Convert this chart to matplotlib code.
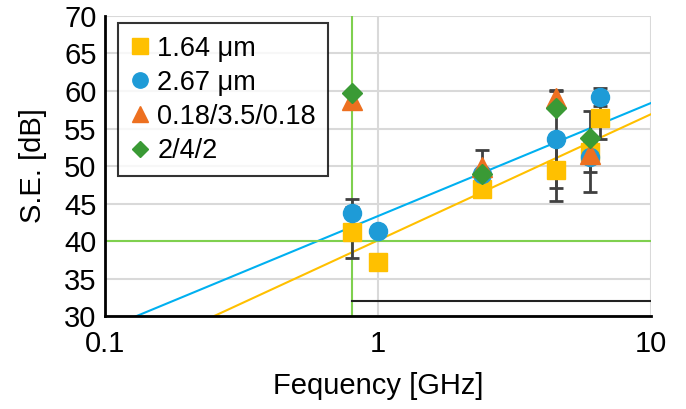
import numpy as np
import matplotlib
matplotlib.use('Agg')
import matplotlib.pyplot as plt

plt.rcParams['font.family'] = ['Liberation Sans', 'DejaVu Sans']

# measured data (frequency in GHz, shielding effectiveness in dB)
f_164 = [0.8, 1.0, 2.4, 4.5, 6.0, 6.5]
se_164 = [41.2, 37.2, 46.9, 49.5, 51.9, 56.4]
err_164 = [3.4, 0, 0, 4.2, 5.4, 2.8]

f_267 = [0.8, 1.0, 2.4, 4.5, 6.0, 6.5]
se_267 = [43.8, 41.3, 49.0, 53.6, 51.2, 59.2]
err_267 = [1.8, 0, 0, 6.5, 2.0, 1.2]

f_tri = [0.8, 2.4, 4.5, 6.0]
se_tri = [58.8, 49.9, 59.1, 51.6]
err_tri = [0, 2.3, 0.9, 0]

f_242 = [0.8, 2.4, 4.5, 6.0]
se_242 = [59.7, 49.0, 57.8, 53.7]

labels = ['1.64 μm', '2.67 μm', '0.18/3.5/0.18', '2/4/2']

# reference lines
f_ref = 0.8
se_ref = 40
se_floor = 32

fig = plt.figure(figsize=(6.86, 4.09), dpi=100)
ax = fig.add_axes([0.153, 0.227, 0.796, 0.734])

ax.set_xscale('log')
ax.set_xlim(0.1, 10)
ax.set_ylim(30, 70)
ax.set_yticks(np.arange(30, 71, 5))
ax.set_xticks([0.1, 1, 10])
ax.set_xticklabels(['0.1', '1', '10'])
ax.minorticks_off()
ax.tick_params(length=0, labelsize=21)
ax.tick_params(axis='x', pad=10)
ax.tick_params(axis='y', pad=6)
ax.grid(True, color='#d9d9d9', lw=1.5, zorder=0)
ax.set_axisbelow(True)
for s in ['top', 'right']:
    ax.spines[s].set_visible(False)
for s in ['left', 'bottom']:
    ax.spines[s].set_linewidth(2)
    ax.spines[s].set_zorder(5)

# log trend lines (fit like Excel)
xx = np.array([0.1, 10])
for f, se, c in [(f_164, se_164, '#ffc000'), (f_267, se_267, '#00b0f0')]:
    p = np.polyfit(np.log10(f), se, 1)
    ax.plot(xx, np.polyval(p, np.log10(xx)), color=c, lw=1.5, zorder=2)

ax.axvline(f_ref, color='#7fd04f', lw=1.5, zorder=2)
ax.axhline(se_ref, color='#7fd04f', lw=1.5, zorder=2)
ax.plot([f_ref, 10], [se_floor, se_floor], color='#222222', lw=1.5, zorder=2)

# error bars only where an error was given
ekw = dict(fmt='none', ecolor='#404040', elinewidth=2, capsize=5, capthick=2, zorder=3)
for f, se, e in [(f_164, se_164, err_164), (f_267, se_267, err_267), (f_tri, se_tri, err_tri)]:
    f, se, e = np.array(f), np.array(se), np.array(e)
    m = e > 0
    ax.errorbar(f[m], se[m], yerr=e[m], **ekw)

ax.plot(f_164, se_164, 's', color='#ffc000', ms=13, ls='none', label=labels[0], zorder=4)
ax.plot(f_267, se_267, 'o', color='#1e9bd7', ms=13, ls='none', label=labels[1], zorder=4)
ax.plot(f_tri, se_tri, '^', color='#ed7020', ms=14, ls='none', label=labels[2], zorder=4)
ax.plot(f_242, se_242, 'D', color='#3a9a35', ms=10, ls='none', label=labels[3], zorder=4)

leg = ax.legend(loc='upper left', bbox_to_anchor=(0.024, 0.975), fontsize=19.5,
                frameon=True, fancybox=False, handlelength=0.7, handletextpad=0.3,
                borderpad=0.45, labelspacing=0.3, markerscale=0.85, borderaxespad=0)
leg.get_frame().set_edgecolor('black')
leg.get_frame().set_linewidth(1.5)
leg.set_zorder(6)

ax.set_xlabel('Fequency [GHz]', fontsize=21, labelpad=10)
ax.set_ylabel('S.E. [dB]', fontsize=21, labelpad=12)

fig.savefig('out.png', dpi=100)
